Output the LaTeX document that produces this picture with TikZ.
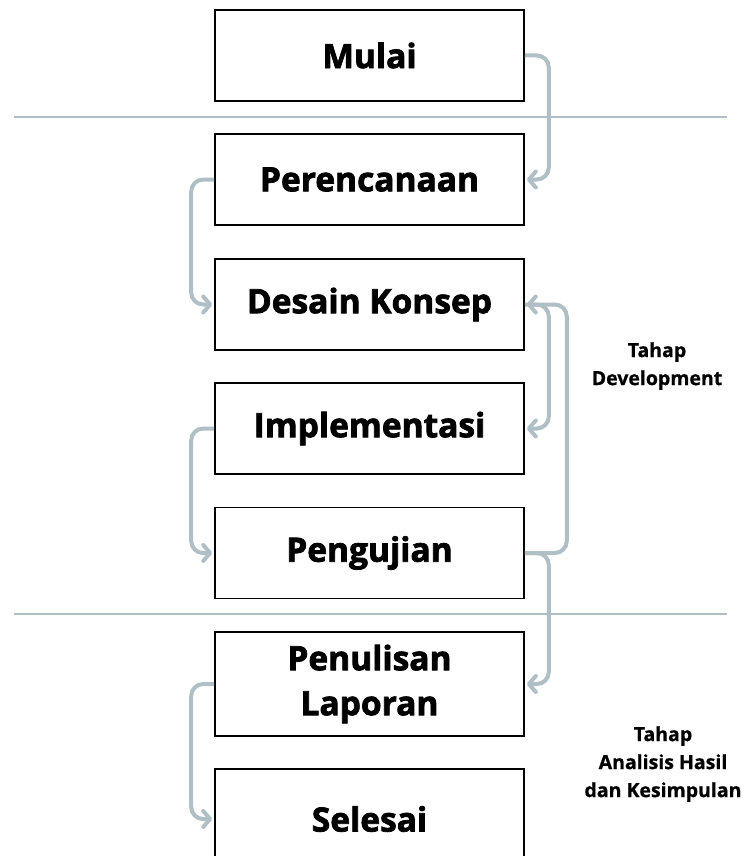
\documentclass[tikz,border=0pt]{standalone}
\usepackage{fontspec}
\setmainfont{Open Sans}[BoldFeatures={FakeBold=0.8}]
\newfontfamily\heavyfont{Open Sans}[BoldFeatures={FakeBold=2.2}]
\usetikzlibrary{arrows.meta}
\definecolor{flow}{HTML}{B0BEC5}
\begin{document}
\begin{tikzpicture}[x=1pt,y=-1pt,
  stage/.style={draw=black,line width=1.6pt,minimum width=309pt,minimum height=91pt,
    inner sep=0pt,font=\heavyfont\bfseries\fontsize{33.5}{45}\selectfont,align=center},
  link/.style={draw=flow,line width=4pt,rounded corners=12pt,shorten >=2pt,
    -{Straight Barb[length=7pt,width=16pt,line cap=round,line join=round]}},
  divider/.style={draw=flow,line width=1.5pt},
  phase/.style={font=\bfseries\fontsize{19.5}{28}\selectfont,align=center}]
\useasboundingbox (0,0) rectangle (743,856);

% phase separators
\draw[divider] (14,117) -- (727,117);
\draw[divider] (14,614) -- (727,614);

% process steps
\node[stage] (mulai)   at (369.5,55.5)  {Mulai};
\node[stage] (rencana) at (369.5,179.5) {Perencanaan};
\node[stage] (desain)  at (369.5,304.5) {Desain Konsep};
\node[stage] (impl)    at (369.5,428.5) {Implementasi};
\node[stage] (uji)     at (369.5,553)   {Pengujian};
\node[stage,minimum height=104pt] (laporan) at (369.5,684) {Penulisan\\Laporan};
\node[stage,minimum height=100pt] (selesai) at (369.5,819) {Selesai};

% phase labels
\node[phase] (dev) at (657,366) {Tahap\\Development};
\node[phase] (ana) at (663,764) {Tahap\\Analisis Hasil\\dan Kesimpulan};

% flow connectors
\draw[link] (mulai.east) -- ++(24,0) |- (rencana.east);
\draw[link] (rencana.west) -- ++(-23,0) |- (desain.west);
\draw[link] (uji.east) -- ++(42,0) |- (desain.east);
\draw[link] (desain.east) -- ++(24,0) |- (impl.east);
\draw[link] (impl.west) -- ++(-23,0) |- (uji.west);
\draw[link] (uji.east) -- ++(24,0) |- (laporan.east);
\draw[link] (laporan.west) -- ++(-23,0) |- (selesai.west);
\end{tikzpicture}
\end{document}
